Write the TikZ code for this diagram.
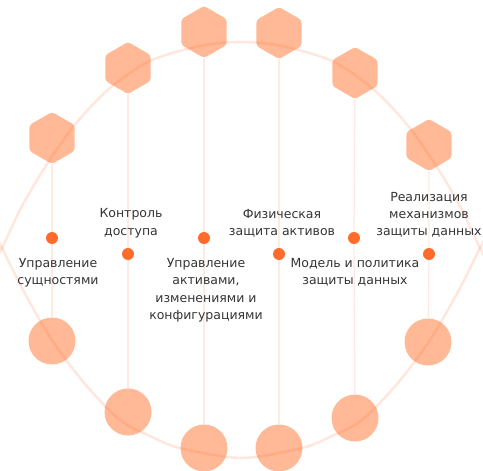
\documentclass[tikz,border=0pt]{standalone}
\usepackage{fontspec}
\setmainfont{DejaVu Sans}
\usetikzlibrary{shapes.geometric,positioning}
\definecolor{peach}{RGB}{255,185,150}
\definecolor{dotorange}{RGB}{255,107,43}
\definecolor{stem}{RGB}{255,234,226}
\definecolor{textgray}{RGB}{52,52,52}

\begin{document}
\begin{tikzpicture}[x=1pt, y=-1pt,
	hexa/.style={regular polygon, regular polygon sides=6, shape border rotate=30, fill=peach, minimum size=52pt, inner sep=0pt, rounded corners=3pt},
	disc/.style={circle, fill=peach, minimum size=47pt, inner sep=0pt},
	bullet/.style={circle, fill=dotorange, minimum size=12pt, inner sep=0pt},
	stemline/.style={draw=stem, line width=1.3pt},
	ring/.style={draw=dotorange, draw opacity=0.16, line width=2.5pt},
	caption/.style={align=center, text=textgray, font=\fontsize{12.5}{17.3}\selectfont, inner sep=0pt},
	]
	\useasboundingbox (0,0) rectangle (483,471);
	\clip (0,0) rectangle (483,471);

	\node[hexa] at (52, 138) (h1) {};
	\node[hexa] at (128, 68) (h2) {};
	\node[hexa] at (204, 32) (h3) {};
	\node[hexa] at (279, 33) (h4) {};
	\node[hexa] at (355, 73) (h5) {};
	\node[hexa] at (429, 145) (h6) {};

	\node[disc] at (52, 341) (c1) {};
	\node[disc] at (128, 412) (c2) {};
	\node[disc] at (204, 448) (c3) {};
	\node[disc] at (279, 448) (c4) {};
	\node[disc] at (355, 418) (c5) {};
	\node[disc] at (428, 342) (c6) {};

	\node[bullet] at (52, 238) (d1) {};
	\node[bullet] at (128, 254) (d2) {};
	\node[bullet] at (204, 238) (d3) {};
	\node[bullet] at (279, 254) (d4) {};
	\node[bullet] at (354, 238) (d5) {};
	\node[bullet] at (429, 254) (d6) {};

	\draw[stemline] (h1) to (d1) to (c1);
	\draw[stemline] (h2) to (d2) to (c2);
	\draw[stemline] (h3) to (d3) to (c3);
	\draw[stemline] (h4) to (d4) to (c4);
	\draw[stemline] (h5) to (d5) to (c5);
	\draw[stemline] (h6) to (d6) to (c6);

	\draw[ring] plot[smooth] coordinates {(-4,258) (2,248) (20,210) (37,180) (55,152) (77,122) (110,88) (150,61) (200,46) (241,42) (282,46) (332,61) (372,88) (405,122) (427,152) (445,180) (462,210) (480,248) (486,258)};
	\draw[ring] plot[smooth] coordinates {(-4,238) (2,248) (23,290) (52,340) (85,384) (120,420) (150,436) (180,448) (241,458) (302,448) (332,436) (362,420) (397,384) (430,340) (459,290) (480,248) (486,238)};

	\node[caption, below=14pt of d1, xshift=6pt] (t1) {Управление\\сущностями};
	\node[caption, above=10pt of d2, xshift=3pt] (t2) {Контроль\\доступа};
	\node[caption, below=14pt of d3, xshift=2pt] (t3) {Управление\\активами,\\изменениями и\\конфигурациями};
	\node[caption, above=10pt of d4, xshift=3pt] (t4) {Физическая\\защита активов};
	\node[caption, below=14pt of d5, xshift=1pt] (t5) {Модель и политика\\защиты данных};
	\node[caption, above=10pt of d6, xshift=0pt] (t6) {Реализация\\механизмов\\защиты данных};
\end{tikzpicture}
\end{document}
